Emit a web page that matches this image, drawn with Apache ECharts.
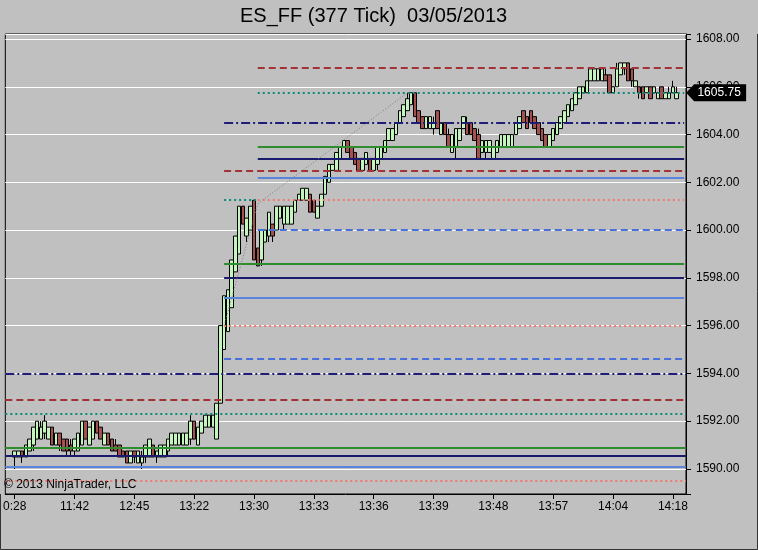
<!DOCTYPE html>
<html><head><meta charset="utf-8">
<script src="https://cdn.jsdelivr.net/npm/echarts@6/dist/echarts.min.js"></script>
<style>html,body{margin:0;padding:0;background:#c0c0c0}#c{width:758px;height:550px}</style>
</head><body><div id="c"></div><script>
// ---- data ----
const tickLabels = ['0:28','11:42','12:45','13:22','13:30','13:33','13:36','13:39','13:48','13:57','14:04','14:18'];
const tickBars = [0,16,32,48,64,80,96,112,128,144,160,176];
const lastPrice = 1605.75;
// [open, close, low, high]
const bars = [
[1590.5,1590.75,1590.0,1590.75],[1590.5,1590.75,1590.5,1590.75],[1590.75,1590.5,1590.25,1590.75],[1590.5,1591.0,1590.5,1591.0],[1590.75,1591.25,1590.75,1591.25],
[1591.0,1591.75,1590.75,1591.75],[1591.25,1592.0,1591.25,1592.0],[1591.25,1591.75,1591.25,1592.0],[1591.5,1592.0,1591.25,1592.25],[1591.25,1591.75,1591.25,1591.75],
[1591.75,1591.0,1591.0,1591.75],[1591.0,1591.5,1591.0,1591.5],[1591.5,1591.0,1590.75,1591.5],[1591.25,1590.75,1590.75,1591.25],[1591.25,1590.75,1590.5,1591.25],
[1591.0,1590.75,1590.5,1591.25],[1590.75,1591.25,1590.5,1591.25],[1590.75,1591.5,1590.75,1591.5],[1591.0,1592.0,1591.0,1592.0],[1592.0,1591.25,1591.25,1592.0],
[1591.0,1591.75,1591.0,1591.75],[1591.25,1592.0,1591.25,1592.0],[1592.0,1591.5,1591.5,1592.0],[1591.75,1591.25,1591.25,1591.75],[1591.0,1591.5,1591.0,1591.5],
[1591.5,1591.0,1591.0,1591.5],[1591.25,1590.75,1590.75,1591.25],[1591.0,1590.75,1590.75,1591.25],[1591.0,1590.5,1590.5,1591.0],[1590.75,1590.5,1590.5,1590.75],
[1590.75,1590.25,1590.25,1590.75],[1590.25,1590.75,1590.25,1590.75],[1590.75,1590.5,1590.25,1590.75],[1590.25,1590.75,1590.25,1590.75],[1590.25,1590.5,1590.0,1590.75],
[1590.5,1591.0,1590.25,1591.0],[1590.5,1591.25,1590.5,1591.25],[1591.0,1590.5,1590.5,1591.0],[1590.5,1590.75,1590.25,1590.75],[1590.5,1591.0,1590.5,1591.0],
[1590.5,1591.0,1590.5,1591.0],[1590.75,1591.25,1590.5,1591.25],[1591.0,1591.5,1591.0,1591.5],[1591.0,1591.5,1591.0,1591.5],[1591.0,1591.5,1591.0,1591.5],
[1591.0,1591.5,1591.0,1591.5],[1591.0,1591.5,1591.0,1591.5],[1591.25,1592.0,1591.0,1592.25],[1592.0,1591.25,1591.25,1592.0],[1591.0,1591.75,1591.0,1591.75],
[1591.5,1592.0,1591.5,1592.0],[1591.75,1592.25,1591.75,1592.25],[1591.75,1592.25,1591.75,1592.25],[1591.75,1592.25,1591.75,1592.25],[1591.25,1592.75,1591.25,1592.75],
[1592.75,1596.0,1592.75,1596.0],[1595.0,1597.25,1595.0,1597.25],[1595.75,1597.5,1595.75,1597.5],[1596.75,1598.75,1596.75,1598.75],[1598.25,1599.75,1598.25,1599.75],
[1599.0,1601.0,1599.0,1601.0],[1601.0,1600.25,1600.25,1601.0],[1599.75,1600.5,1599.5,1600.5],[1600.0,1601.0,1600.0,1601.0],[1601.25,1598.75,1598.75,1601.25],
[1599.25,1598.5,1598.5,1599.25],[1598.75,1600.0,1598.5,1600.0],[1599.5,1600.0,1599.5,1600.0],[1599.75,1600.75,1599.5,1600.75],[1600.25,1599.75,1599.5,1600.25],
[1600.0,1601.0,1600.0,1601.0],[1600.5,1601.0,1600.5,1601.0],[1600.25,1601.0,1600.0,1601.0],[1600.25,1601.0,1600.25,1601.0],[1600.25,1601.0,1600.25,1601.0],
[1600.75,1601.25,1600.75,1601.25],[1601.25,1601.5,1601.25,1601.5],[1601.25,1601.75,1601.25,1601.75],[1601.25,1601.75,1601.25,1601.75],[1601.5,1600.75,1600.75,1601.5],
[1601.25,1600.75,1600.75,1601.25],[1600.5,1601.0,1600.5,1601.0],[1601.0,1601.5,1601.0,1601.5],[1601.5,1602.25,1601.5,1602.25],[1602.0,1602.75,1602.0,1602.75],
[1602.5,1602.75,1602.5,1602.75],[1602.5,1603.25,1602.5,1603.25],[1603.0,1603.5,1603.0,1603.5],[1603.5,1603.75,1603.5,1603.75],[1603.75,1603.25,1603.25,1603.75],
[1603.5,1603.0,1603.0,1603.5],[1603.25,1602.75,1602.75,1603.25],[1603.0,1602.5,1602.5,1603.0],[1602.5,1603.0,1602.5,1603.0],[1602.75,1603.25,1602.75,1603.25],
[1603.0,1602.5,1602.5,1603.0],[1602.5,1603.0,1602.5,1603.0],[1602.75,1603.5,1602.5,1603.5],[1603.0,1603.5,1603.0,1603.5],[1603.25,1603.75,1603.25,1603.75],
[1603.75,1604.25,1603.75,1604.25],[1603.75,1604.25,1603.75,1604.25],[1604.0,1604.5,1604.0,1604.5],[1604.5,1605.0,1604.5,1605.0],[1604.75,1605.25,1604.75,1605.25],
[1605.0,1605.5,1605.0,1605.75],[1605.25,1605.75,1605.25,1605.75],[1605.75,1604.75,1604.75,1605.75],[1605.0,1604.5,1604.5,1605.0],[1604.75,1604.25,1604.25,1604.75],
[1604.25,1604.75,1604.25,1604.75],[1604.25,1604.75,1604.25,1604.75],[1604.25,1604.5,1604.0,1604.75],[1605.0,1604.25,1604.25,1605.0],[1604.0,1604.5,1604.0,1604.5],
[1604.5,1604.0,1604.0,1604.5],[1604.0,1603.5,1603.5,1604.25],[1603.25,1604.0,1603.25,1604.0],[1603.5,1604.25,1603.0,1604.25],[1603.75,1604.25,1603.75,1604.25],
[1604.25,1604.75,1604.25,1604.75],[1604.5,1604.0,1604.0,1604.75],[1604.5,1604.0,1604.0,1604.5],[1604.25,1603.75,1603.75,1604.25],[1604.0,1603.0,1603.0,1604.25],
[1603.25,1603.75,1603.25,1603.75],[1603.25,1603.75,1603.0,1603.75],[1603.25,1603.75,1603.25,1603.75],[1603.0,1603.5,1603.0,1603.5],[1603.25,1603.75,1603.25,1603.75],
[1603.5,1604.0,1603.5,1604.0],[1603.5,1604.0,1603.5,1604.0],[1603.5,1604.0,1603.5,1604.0],[1603.5,1604.0,1603.5,1604.0],[1604.0,1604.5,1604.0,1604.5],
[1604.25,1604.75,1604.25,1604.75],[1605.0,1604.5,1604.5,1605.0],[1604.75,1604.25,1604.25,1604.75],[1605.0,1604.5,1604.5,1605.0],[1604.75,1604.25,1604.25,1604.75],
[1604.5,1604.0,1604.0,1604.5],[1604.25,1603.75,1603.75,1604.25],[1604.0,1603.5,1603.5,1604.0],[1603.5,1604.0,1603.5,1604.0],[1603.75,1604.25,1603.75,1604.25],
[1604.0,1604.5,1604.0,1604.5],[1604.25,1604.75,1604.25,1604.75],[1604.5,1605.0,1604.5,1605.0],[1604.75,1605.25,1604.75,1605.25],[1605.0,1605.5,1605.0,1605.5],
[1605.25,1605.75,1605.25,1605.75],[1605.5,1606.0,1605.5,1606.0],[1605.75,1606.0,1605.75,1606.0],[1605.75,1606.25,1605.75,1606.25],[1606.25,1606.75,1606.25,1606.75],
[1606.25,1606.75,1606.25,1606.75],[1606.25,1606.75,1606.25,1606.75],[1606.25,1606.75,1606.25,1606.75],[1606.5,1606.25,1606.25,1606.75],[1606.5,1605.75,1605.75,1606.5],
[1605.75,1606.0,1605.75,1606.0],[1606.0,1606.75,1606.0,1607.0],[1606.5,1607.0,1606.5,1607.0],[1606.75,1607.0,1606.5,1607.0],[1607.0,1606.25,1606.25,1607.0],
[1606.75,1606.25,1606.0,1606.75],[1606.0,1606.25,1606.0,1606.25],[1606.0,1605.75,1605.5,1606.0],[1606.0,1605.5,1605.5,1606.0],[1605.75,1606.0,1605.75,1606.0],
[1606.0,1605.5,1605.5,1606.0],[1605.75,1606.0,1605.75,1606.0],[1605.5,1605.75,1605.5,1605.75],[1606.0,1605.5,1605.5,1606.0],[1605.5,1605.75,1605.5,1605.75],
[1605.5,1605.75,1605.5,1606.0],[1605.75,1606.0,1605.75,1606.25],[1605.5,1605.75,1605.5,1606.0]
];
// horizontal levels: [price, firstBar (null = whole chart), lastBar (null = to the end), kind]
const levels = [
[1594.0, null, null, 'navyDashDot'],[1592.9, null, null, 'redDash'],[1592.3, null, null, 'tealDot'],
[1590.9, null, null, 'green'],[1590.55, null, null, 'navy'],[1590.1, null, null, 'blue'],[1589.5, null, null, 'salmonDot'],
[1604.5, 56, null, 'navyDashDot'],[1602.5, 56, null, 'redDash'],[1601.25, 56, 65, 'tealDot'],
[1598.6, 56, null, 'green'],[1598.0, 56, null, 'navy'],[1597.15, 56, null, 'blue'],[1596.0, 56, null, 'salmonDot'],[1594.6, 56, null, 'blueDash'],
[1606.8, 65, null, 'redDash'],[1605.75, 65, null, 'tealDot'],[1603.5, 65, null, 'green'],[1603.0, 65, null, 'navy'],
[1602.2, 65, null, 'blue'],[1601.25, 65, null, 'salmonDot'],[1600.0, 65, null, 'blueDash']
];
// trend line points: [bar, price]
const trendPts = [[56, 1596.0],[65, 1601.1],[105, 1605.75]];

// ---- styles / layout ----
const FONT = 'Liberation Sans, Arial, sans-serif';
const OFFSET = 2, NCAT = 182;
const styles = {
  navyDashDot:{color:'#1e1e78', width:2, type:[9,3,2,3]},
  redDash:{color:'#a33236', width:2, type:[7,4]},
  tealDot:{color:'#0b8c78', width:2, type:[2,3]},
  green:{color:'#2f8c2f', width:2, type:'solid'},
  navy:{color:'#1a1a6e', width:2, type:'solid'},
  blue:{color:'#5b84dc', width:2, type:'solid'},
  salmonDot:{color:'#f07a70', width:2, type:[2,3]},
  blueDash:{color:'#4a70dc', width:2, type:[7,4]}
};
const cats = Array.from({length:NCAT}, (_, k) => String(k));
const labelAt = {};
tickBars.forEach((b, j) => { labelAt[b + OFFSET] = tickLabels[j]; });
const isTick = (idx) => labelAt[idx] !== undefined;

const lineData = levels.map(([p, s, e, kind]) => {
  const ls = styles[kind];
  if (s === null) return {yAxis: p, lineStyle: ls};
  const end = e === null ? NCAT - 1 : e + OFFSET;
  return [{coord:[s + OFFSET, p], lineStyle: ls}, {coord:[end, p]}];
});
for (let i = 0; i < trendPts.length - 1; i++) {
  lineData.push([{coord:[trendPts[i][0] + OFFSET, trendPts[i][1]], lineStyle:{color:'#7a7a7a', width:1, type:[1,2]}},
                 {coord:[trendPts[i+1][0] + OFFSET, trendPts[i+1][1]]}]);
}

const chart = echarts.init(document.getElementById('c'), null, {renderer:'canvas'});
chart.setOption({
  animation:false,
  backgroundColor:'#c0c0c0',
  textStyle:{fontFamily:FONT},
  grid:{left:1, right:72, top:34, bottom:56, show:true, borderColor:'#000', borderWidth:1, backgroundColor:'#c0c0c0'},
  xAxis:{
    type:'category', data:cats, boundaryGap:true,
    axisLine:{show:true, lineStyle:{color:'#000', width:1}},
    axisTick:{show:true, interval:(idx)=>isTick(idx), alignWithLabel:true, length:5, lineStyle:{color:'#000'}},
    axisLabel:{interval:(idx)=>isTick(idx), formatter:(v)=> labelAt[Number(v)] || '', color:'#000', fontSize:12, fontFamily:FONT, margin:7},
    splitLine:{show:false}
  },
  yAxis:{
    type:'value', position:'right', min:1588.95, max:1608.21, splitNumber:10, minInterval:2, maxInterval:2,
    axisLine:{show:true, lineStyle:{color:'#000'}},
    axisTick:{show:true, length:5, lineStyle:{color:'#000'}},
    axisLabel:{color:'#000', fontSize:12, fontFamily:FONT, margin:10,
      formatter:(v)=> (Math.abs(v - Math.round(v)) < 1e-6 && Math.round(v) % 2 === 0) ? v.toFixed(2) : ''},
    splitLine:{show:true, lineStyle:{color:'#ffffff', width:1}}
  },
  series:[
    {
      type:'candlestick', z:2,
      data: bars.map((b, i) => [i + OFFSET, b[0], b[1], b[2], b[3]]),
      encode:{x:0, y:[1,2,3,4]},
      barWidth:4,
      itemStyle:{color:'#c4f5bc', color0:'#a4504f', borderColor:'#000', borderColor0:'#000', borderWidth:1},
      markPoint:{
        silent:true, animation:false,
        symbol:'path://M0,8.5L8,0L60,0L60,17L8,17Z', symbolSize:[60,17], symbolOffset:[32,0], symbolKeepAspect:false,
        itemStyle:{color:'#000'},
        label:{show:true, position:'inside', color:'#fff', fontSize:12, fontFamily:FONT, offset:[3,0], formatter:()=> lastPrice.toFixed(2)},
        data:[{coord:[NCAT - 1, lastPrice], value:lastPrice}]
      }
    },
    {
      type:'line', z:3, data:[], silent:true,
      markLine:{silent:true, animation:false, symbol:'none', label:{show:false}, data:lineData}
    }
  ],
  graphic:[
    {type:'text', left:240, top:6, style:{text:'ES_FF (377 Tick)  03/05/2013', font:'20px ' + FONT, fill:'#000'}},
    {type:'text', left:4, top:479, style:{text:'\u00a9 2013 NinjaTrader, LLC', font:'12px ' + FONT, fill:'#000'}, z:10},
    {type:'polyline', shape:{points:[[0.5,494],[0.5,549.5],[757.5,549.5],[757.5,34]]}, style:{stroke:'#333', fill:null, lineWidth:1}}
  ]
});
</script></body></html>
